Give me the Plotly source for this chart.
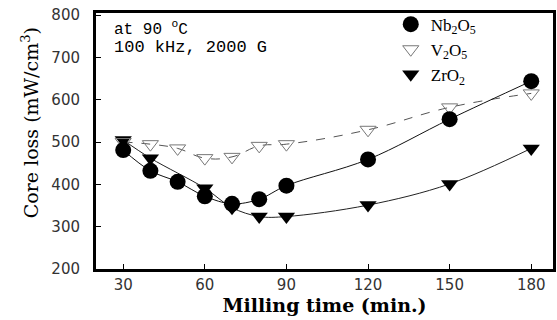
import plotly.graph_objects as go

# Data
time_nb = [30, 40, 50, 60, 70, 80, 90, 120, 150, 180]
loss_nb = [481, 432, 406, 372, 354, 365, 397, 459, 554, 644]

time_v = [30, 40, 50, 60, 70, 80, 90, 120, 150, 180]
loss_v = [500, 495, 485, 462, 465, 491, 495, 529, 582, 615]

time_zr = [30, 40, 60, 70, 80, 90, 120, 150, 180]
loss_zr = [505, 462, 391, 345, 324, 324, 351, 401, 485]

x_ticks = [30, 60, 90, 120, 150, 180]
y_ticks = [200, 300, 400, 500, 600, 700, 800]

names = ["Nb<sub>2</sub>O<sub>5</sub>", "V<sub>2</sub>O<sub>5</sub>", "ZrO<sub>2</sub>"]

fig = go.Figure()

# curves (not in legend)
fig.add_trace(go.Scatter(x=time_v, y=loss_v, mode="lines", showlegend=False,
                         line=dict(color="#555", width=1, dash="dash", shape="spline", smoothing=1.2)))
fig.add_trace(go.Scatter(x=time_zr, y=loss_zr, mode="lines", showlegend=False,
                         line=dict(color="#222", width=1, shape="spline", smoothing=1.0)))
fig.add_trace(go.Scatter(x=time_nb, y=loss_nb, mode="lines", showlegend=False,
                         line=dict(color="#111", width=1, shape="spline", smoothing=1.0)))

# markers (added Zr, V, Nb so Nb is on top; legend reversed -> Nb, V, Zr)
fig.add_trace(go.Scatter(x=time_zr, y=loss_zr, mode="markers", name=names[2],
                         marker=dict(symbol="triangle-down", size=15, color="black")))
fig.add_trace(go.Scatter(x=time_v, y=loss_v, mode="markers", name=names[1],
                         marker=dict(symbol="triangle-down-open", size=14, color="#777",
                                     line=dict(width=1, color="#777"))))
fig.add_trace(go.Scatter(x=time_nb, y=loss_nb, mode="markers", name=names[0],
                         marker=dict(symbol="circle", size=16, color="black")))

fig.update_layout(
    width=557, height=320,
    margin=dict(l=96, r=4, t=13, b=51),
    paper_bgcolor="white", plot_bgcolor="white",
    showlegend=True,
    legend=dict(x=0.645, y=1.025, xanchor="left", yanchor="top",
                traceorder="reversed",
                font=dict(family="Liberation Serif", size=17, color="black"),
                bgcolor="rgba(0,0,0,0)", tracegroupgap=0),
    xaxis=dict(range=[20, 188], tickvals=x_ticks, ticks="inside", ticklen=5,
               tickcolor="black", showgrid=False, zeroline=False, automargin=False,
               showline=True, linecolor="black", linewidth=3, mirror=True,
               ticklabelstandoff=0,
               tickfont=dict(family="DejaVu Sans", size=15, color="#333"),
               title=dict(text="<b>Milling time (min.)</b>", standoff=0,
                          font=dict(family="DejaVu Serif", size=19, color="black"))),
    yaxis=dict(range=[200, 805], tickvals=y_ticks, ticks="inside", ticklen=5,
               tickcolor="black", showgrid=False, zeroline=False, automargin=False,
               showline=True, linecolor="black", linewidth=3, mirror=True,
               ticklabelstandoff=10,
               tickfont=dict(family="DejaVu Sans", size=15, color="#333")),
    annotations=[
        dict(x=-0.144, y=0.57, xref="paper", yref="paper", xanchor="center", yanchor="middle",
             text="Core loss (mW/cm<sup>3</sup>)", textangle=-90, showarrow=False,
             font=dict(family="DejaVu Serif", size=19, color="black")),
        dict(x=0.035, y=0.94, xref="paper", yref="paper", xanchor="left", yanchor="middle",
             text="at 90 <sup>o</sup>C", showarrow=False,
             font=dict(family="Liberation Mono", size=16, color="black")),
        dict(x=0.035, y=0.865, xref="paper", yref="paper", xanchor="left", yanchor="middle",
             text="100 kHz, 2000 G", showarrow=False,
             font=dict(family="Liberation Mono", size=17, color="black")),
    ],
)

fig.write_html("out.html", config={"displayModeBar": False},
               post_script="document.body.style.margin='0px';")
